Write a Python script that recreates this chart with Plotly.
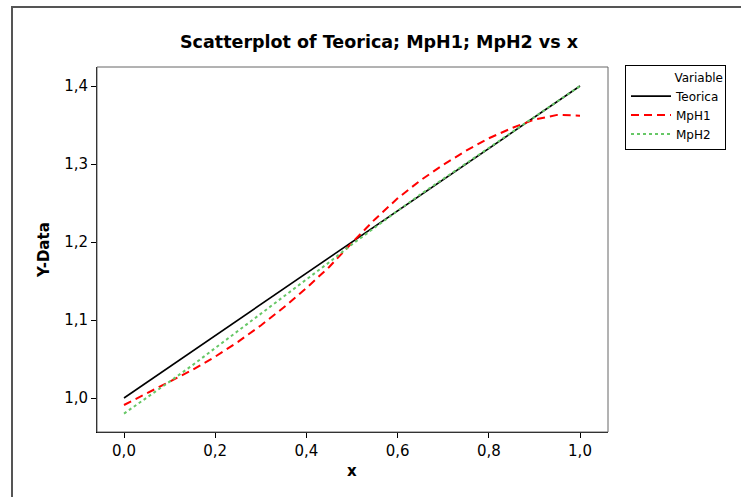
import plotly.graph_objects as go

x = [0.0, 0.05, 0.1, 0.15, 0.2, 0.25, 0.3, 0.35, 0.4, 0.45, 0.5,
     0.55, 0.6, 0.65, 0.7, 0.75, 0.8, 0.85, 0.9, 0.95, 1.0]
teorica = [1.00, 1.02, 1.04, 1.06, 1.08, 1.10, 1.12, 1.14, 1.16, 1.18, 1.20,
           1.22, 1.24, 1.26, 1.28, 1.30, 1.32, 1.34, 1.36, 1.38, 1.40]
mph1 = [0.991, 1.006, 1.021, 1.036, 1.053, 1.072, 1.093, 1.116, 1.141, 1.168, 1.199,
        1.229, 1.256, 1.279, 1.299, 1.317, 1.333, 1.346, 1.357, 1.363, 1.362]
mph2 = [0.980, 1.000, 1.021, 1.042, 1.064, 1.085, 1.107, 1.129, 1.151, 1.174, 1.197,
        1.219, 1.240, 1.261, 1.281, 1.301, 1.321, 1.341, 1.361, 1.380, 1.400]

x_ticks = [0.0, 0.2, 0.4, 0.6, 0.8, 1.0]
y_ticks = [1.0, 1.1, 1.2, 1.3, 1.4]

W, H = 741, 497
L, R, T, B = 97, 608, 67, 432  # plot area in px


def px(xp):
    return (xp - L) / (R - L)


def py(yp):
    return (B - yp) / (B - T)


FONT = "DejaVu Sans"

fig = go.Figure()
fig.add_trace(go.Scatter(x=x, y=teorica, mode="lines", name="Teorica",
                         line=dict(color="black", width=1.6)))
fig.add_trace(go.Scatter(x=x, y=mph1, mode="lines", name="MpH1",
                         line=dict(color="#ff0000", width=2, dash="8px,5px")))
fig.add_trace(go.Scatter(x=x, y=mph2, mode="lines", name="MpH2",
                         line=dict(color="#66c766", width=2, dash="3px,3px")))

fig.update_layout(
    width=W, height=H,
    margin=dict(l=L, r=W - R, t=T, b=H - B),
    paper_bgcolor="white", plot_bgcolor="white",
    separators=",.",
    font=dict(family=FONT, color="black", size=13),
    showlegend=True,
    legend=dict(
        x=px(625), y=py(65), xanchor="left", yanchor="top",
        bordercolor="black", borderwidth=1, bgcolor="white",
        font=dict(family=FONT, size=12, color="black"),
        title=dict(text="Variable", side="top right",
                   font=dict(family=FONT, size=12, color="black")),
        tracegroupgap=0, itemwidth=40,
    ),
    xaxis=dict(range=[-0.0592, 1.0614], tickvals=x_ticks, tickformat=".1f",
               ticks="outside", ticklen=5, tickcolor="black", showgrid=False,
               zeroline=False, showline=True, linecolor="black", linewidth=1,
               tickfont=dict(size=15)),
    yaxis=dict(range=[0.9564, 1.4244], tickvals=y_ticks, tickformat=".1f",
               ticks="outside", ticklen=5, tickcolor="black", showgrid=False,
               zeroline=False, showline=True, linecolor="black", linewidth=1,
               tickfont=dict(size=15)),
    shapes=[
        # outer frame
        dict(type="rect", xref="paper", yref="paper",
             x0=px(12), x1=px(760), y0=py(7), y1=py(520),
             line=dict(color="#555555", width=2), layer="below"),
        # plot area box
        dict(type="rect", xref="paper", yref="paper",
             x0=0, x1=1, y0=0, y1=1,
             line=dict(color="#666666", width=1)),
    ],
    annotations=[
        dict(text="<b>Scatterplot of Teorica; MpH1; MpH2 vs x</b>",
             xref="paper", yref="paper", x=px(379), y=py(42),
             xanchor="center", yanchor="middle", showarrow=False,
             font=dict(family=FONT, size=17.5, color="black")),
        dict(text="<b>x</b>", xref="paper", yref="paper", x=px(352), y=py(471),
             xanchor="center", yanchor="middle", showarrow=False,
             font=dict(family=FONT, size=15, color="black")),
        dict(text="<b>Y-Data</b>", xref="paper", yref="paper", x=px(44), y=py(250),
             xanchor="center", yanchor="middle", showarrow=False, textangle=-90,
             font=dict(family=FONT, size=15, color="black")),
    ],
)

fig.write_html("out.html")
